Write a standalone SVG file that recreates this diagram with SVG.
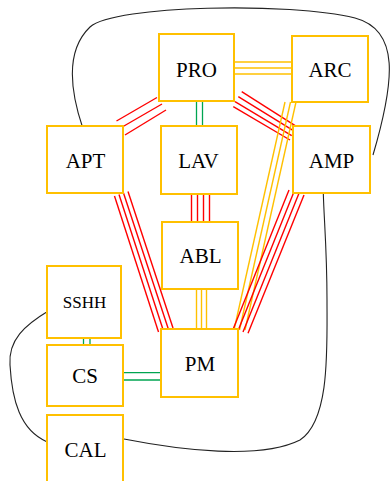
<svg xmlns="http://www.w3.org/2000/svg" width="390" height="481" viewBox="0 0 390 481">
<style>
.box{fill:#fff;stroke:#ffc000;stroke-width:2}
.lbl{font-family:"Liberation Serif","Times New Roman",serif;font-size:21px;fill:#000;text-anchor:middle}
.sm{font-size:17px}
.r{stroke:#ff0000;stroke-width:1.4;fill:none}
.y{stroke:#ffc000;stroke-width:1.4;fill:none}
.g{stroke:#00a550;stroke-width:1.3;fill:none}
.k{stroke:#222;stroke-width:1.1;fill:none}
</style>
<rect width="390" height="481" fill="#fff"/>
<g id="connectors">
  <path class="k" d="M82.7 127.7 C70 90 66 50 90 27 C115 5 290 2 355 18 C400 30 395 80 373 155"/>
  <path class="k" d="M48.3 311 C25 325 8 340 10 365 C12 400 20 430 46.7 441.7"/>
  <path class="k" d="M124 439 C180 450 260 460 300 440 C330 420 327 350 327 300 C327 250 324 220 323.3 193"/>
  <g class="y">
    <line x1="234" y1="62" x2="292" y2="62"/>
    <line x1="234" y1="68" x2="292" y2="68"/>
    <line x1="234" y1="74" x2="292" y2="74"/>
  </g>
  <g class="r">
    <line x1="116.5" y1="121" x2="157" y2="97.5"/>
    <line x1="120.5" y1="128" x2="162" y2="104"/>
    <line x1="125" y1="135" x2="166" y2="110"/>
  </g>
  <g class="r">
    <line x1="241.7" y1="91.7" x2="298.3" y2="127.7"/>
    <line x1="238.3" y1="96.7" x2="295" y2="131.7"/>
    <line x1="235" y1="101.7" x2="291.7" y2="135.7"/>
    <line x1="233.3" y1="106.7" x2="290" y2="140"/>
  </g>
  <g class="g">
    <line x1="196.5" y1="101" x2="196.5" y2="126"/>
    <line x1="202.5" y1="101" x2="202.5" y2="126"/>
  </g>
  <g class="y">
    <line x1="285" y1="102" x2="234" y2="330"/>
    <line x1="290.5" y1="102" x2="239.5" y2="330"/>
    <line x1="296" y1="102" x2="245" y2="330"/>
  </g>
  <g class="r">
    <line x1="191.5" y1="194" x2="191.5" y2="222"/>
    <line x1="197.5" y1="194" x2="197.5" y2="222"/>
    <line x1="203.5" y1="194" x2="203.5" y2="222"/>
    <line x1="209.5" y1="194" x2="209.5" y2="222"/>
  </g>
  <g class="y">
    <line x1="196.5" y1="289" x2="196.5" y2="329"/>
    <line x1="201.5" y1="289" x2="201.5" y2="329"/>
    <line x1="206.5" y1="289" x2="206.5" y2="329"/>
  </g>
  <g class="r">
    <line x1="114.5" y1="196" x2="158.5" y2="332"/>
    <line x1="119" y1="194.5" x2="163.5" y2="331"/>
    <line x1="123.5" y1="193" x2="168.5" y2="329.5"/>
    <line x1="128" y1="191.5" x2="173" y2="328"/>
  </g>
  <g class="r">
    <line x1="289" y1="190" x2="233" y2="329.5"/>
    <line x1="294" y1="191.7" x2="238" y2="330.8"/>
    <line x1="299" y1="193.3" x2="243" y2="332"/>
    <line x1="304" y1="195" x2="248" y2="333.3"/>
  </g>
  <g class="g">
    <line x1="83.5" y1="338" x2="83.5" y2="345"/>
    <line x1="90" y1="338" x2="90" y2="345"/>
  </g>
  <g class="g">
    <line x1="123" y1="372.7" x2="161" y2="372.7"/>
    <line x1="123" y1="380" x2="161" y2="380"/>
  </g>
</g>
<g id="PRO"><rect class="box" x="159" y="34" width="75" height="67"/><text class="lbl" x="196.5" y="76.5">PRO</text></g>
<g id="ARC"><rect class="box" x="292" y="36" width="76" height="66"/><text class="lbl" x="330" y="76.5">ARC</text></g>
<g id="APT"><rect class="box" x="47" y="126" width="76" height="67"/><text class="lbl" x="85.5" y="168">APT</text></g>
<g id="LAV"><rect class="box" x="161" y="126" width="76" height="68"/><text class="lbl" x="198.5" y="168">LAV</text></g>
<g id="AMP"><rect class="box" x="293" y="126" width="77" height="67"/><text class="lbl" x="331.5" y="168">AMP</text></g>
<g id="ABL"><rect class="box" x="162" y="222" width="76" height="67"/><text class="lbl" x="200.5" y="263">ABL</text></g>
<g id="SSHH"><rect class="box" x="47" y="266" width="74" height="72"/><text class="lbl sm" x="84.5" y="308">SSHH</text></g>
<g id="CS"><rect class="box" x="47" y="345" width="76" height="61"/><text class="lbl" x="85" y="383">CS</text></g>
<g id="PM"><rect class="box" x="161" y="329" width="77" height="68"/><text class="lbl" x="200" y="371">PM</text></g>
<g id="CAL"><rect class="box" x="47" y="415" width="76" height="80"/><text class="lbl" x="85.5" y="457">CAL</text></g>
</svg>
